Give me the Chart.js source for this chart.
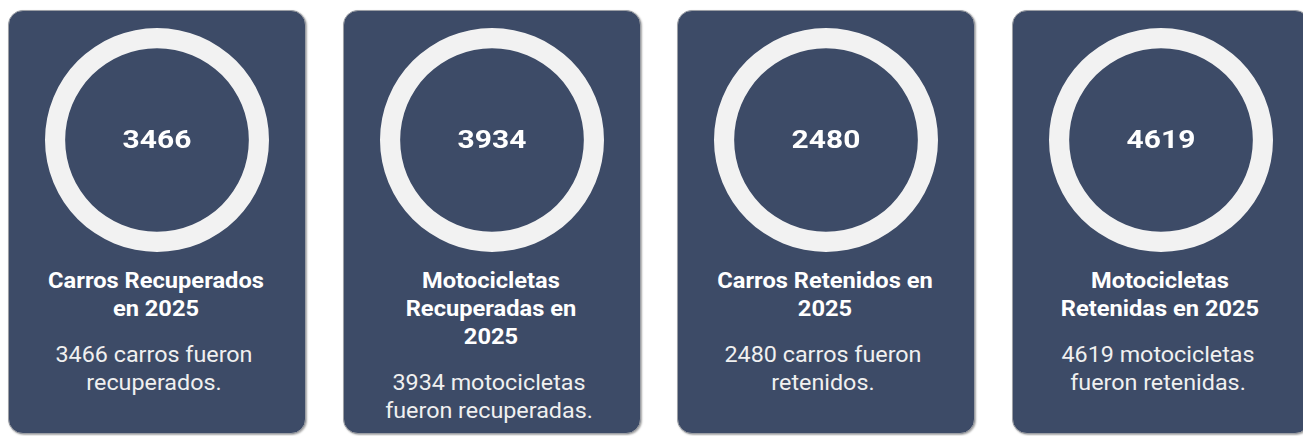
<!DOCTYPE html>
<html>
<head>
<meta charset="utf-8">
<script src="https://cdn.jsdelivr.net/npm/chart.js@4.4.1/dist/chart.umd.min.js"></script>
<style>
  html, body { margin: 0; padding: 0; background: #ffffff; width: 1303px; height: 436px; overflow: hidden; }
  body { position: relative; font-family: Roboto, "Noto Sans", sans-serif; }
  .card {
    position: absolute; top: 10px; width: 298px; height: 424px; box-sizing: border-box;
    background: #3d4b67; border: 1px solid #9c9fa5; border-radius: 15px;
    box-shadow: 1px 1px 2px rgba(0,0,0,0.35);
  }
  .ring { position: absolute; left: 36px; top: 17px; width: 224px; height: 224px; }
  .num {
    position: absolute; left: 0; width: 296px; top: 110px; height: 36px; line-height: 36px;
    text-align: center; color: #ffffff; font-weight: 700; font-size: 26.5px;
    transform: scaleX(1.13); transform-origin: 148px 50%;
  }
  .text { position: absolute; left: 0; width: 296px; top: 256px; text-align: center; }
  .title { color: #ffffff; font-weight: 700; font-size: 22px; line-height: 28px;
    transform: translateX(-1px) scaleX(1.075); transform-origin: 148px 50%; }
  .desc { color: #f0f0f0; font-weight: 400; font-size: 22px; line-height: 28px; margin-top: 18px;
    transform: translateX(-3px) scaleX(1.06); transform-origin: 148px 50%; }
</style>
</head>
<body>
<script>
const categories = ["Carros Recuperados", "Motocicletas Recuperadas", "Carros Retenidos", "Motocicletas Retenidas"];
const values = [3466, 3934, 2480, 4619];
const titleLines = [
  ["Carros Recuperados", "en 2025"],
  ["Motocicletas", "Recuperadas en", "2025"],
  ["Carros Retenidos en", "2025"],
  ["Motocicletas", "Retenidas en 2025"]
];
const descLines = [
  ["3466 carros fueron", "recuperados."],
  ["3934 motocicletas", "fueron recuperadas."],
  ["2480 carros fueron", "retenidos."],
  ["4619 motocicletas", "fueron retenidas."]
];
const cardLefts = [8, 343, 677, 1012];

categories.forEach((cat, i) => {
  const card = document.createElement('div');
  card.className = 'card';
  card.style.left = cardLefts[i] + 'px';

  const cv = document.createElement('canvas');
  cv.className = 'ring';
  cv.width = 224; cv.height = 224;
  card.appendChild(cv);

  const num = document.createElement('div');
  num.className = 'num';
  num.textContent = String(values[i]);
  card.appendChild(num);

  const text = document.createElement('div');
  text.className = 'text';
  const t = document.createElement('div');
  t.className = 'title';
  titleLines[i].forEach(l => { const d = document.createElement('div'); d.textContent = l; t.appendChild(d); });
  const ds = document.createElement('div');
  ds.className = 'desc';
  descLines[i].forEach(l => { const d = document.createElement('div'); d.textContent = l; ds.appendChild(d); });
  text.appendChild(t); text.appendChild(ds);
  card.appendChild(text);

  document.body.appendChild(card);

  new Chart(cv, {
    type: 'doughnut',
    data: {
      labels: [cat],
      datasets: [{ data: [values[i]], backgroundColor: ['#f2f2f2'], borderWidth: 0 }]
    },
    options: {
      responsive: false,
      animation: false,
      cutout: '82%',
      layout: { padding: 0 },
      plugins: { legend: { display: false }, tooltip: { enabled: false } }
    }
  });
});
</script>
</body>
</html>
